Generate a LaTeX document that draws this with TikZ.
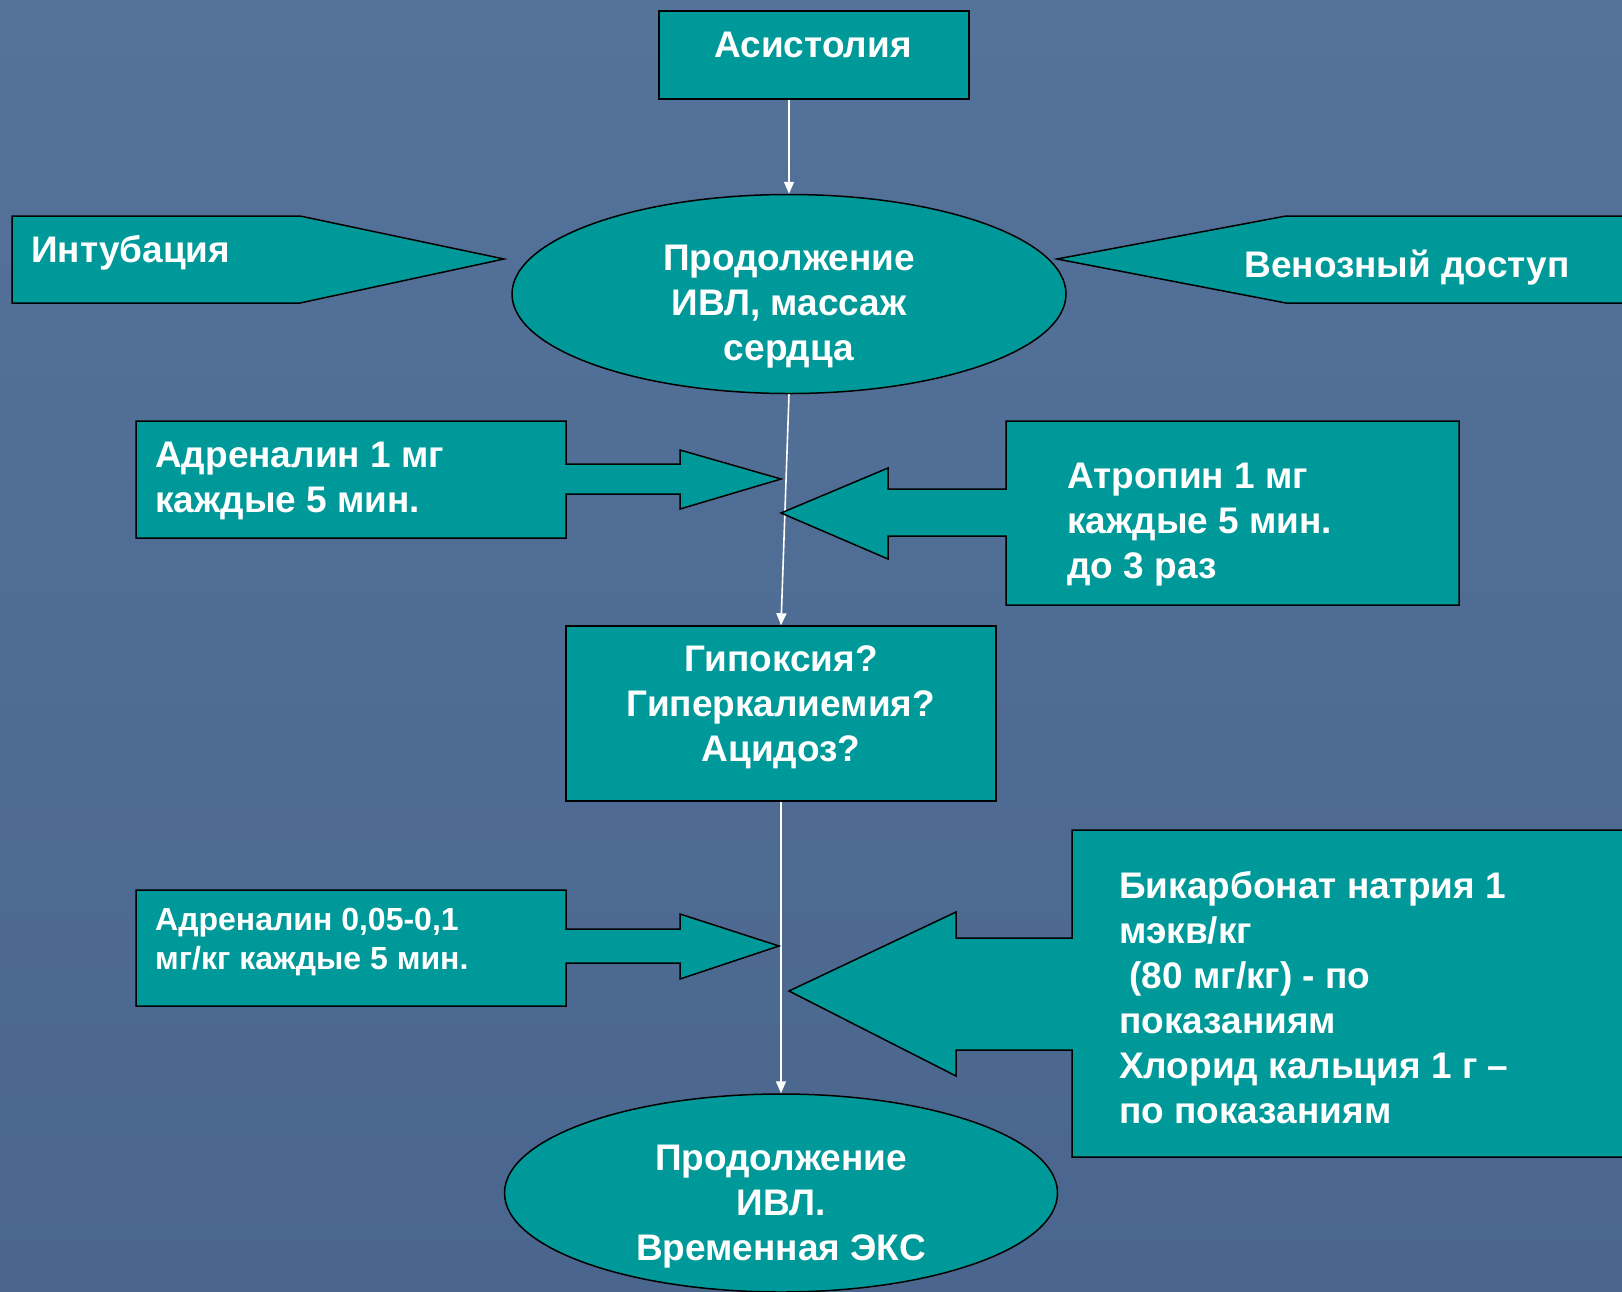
\documentclass[tikz,border=0pt]{standalone}
\usepackage{fontspec}
\setmainfont{Liberation Sans}
\usetikzlibrary{shapes.geometric,arrows.meta}
\definecolor{bgtop}{RGB}{84,114,154}
\definecolor{bgbot}{RGB}{74,102,142}
\definecolor{tealfill}{RGB}{0,153,153}
\begin{document}
\begin{tikzpicture}[x=1pt,y=-1pt,
  shapeline/.style={fill=tealfill,draw=black,line width=1.5pt,line join=miter},
  boxnode/.style={rectangle,fill=tealfill,draw=black,line width=1.5pt,inner sep=0pt},
  ellnode/.style={ellipse,fill=tealfill,draw=black,line width=1.5pt,inner sep=0pt,minimum width=554pt,minimum height=199pt},
  txt/.style={text=white,font=\bfseries\fontsize{37}{45}\selectfont,inner sep=0pt},
  txtsmall/.style={text=white,font=\bfseries\fontsize{32}{39}\selectfont,inner sep=0pt},
  flow/.style={draw=white,line width=1.6pt,-{Triangle[length=12pt,width=10pt]}}
]
\useasboundingbox (0,0) rectangle (1622,1291);
\clip (0,0) rectangle (1622,1291);
\shade[top color=bgtop,bottom color=bgbot] (0,0) rectangle (1622,1291);

% top box
\node[boxnode,minimum width=310pt,minimum height=88pt] (asys) at (814,55) {};
\node[txt] (asyst) at (813,45) {Асистолия};

% ellipses
\node[ellnode] (ell1) at (789,294) {};
\node[txt,align=center] (ell1t) at (789,307) {Продолжение\\ИВЛ, массаж\\сердца};

% pentagon callouts
\draw[shapeline] (12,216) -- (300,216) -- (504,259) -- (300,303) -- (12,303) -- cycle;
\node[txt,anchor=west] (intub) at (31,253) {Интубация};
\draw[shapeline] (1640,216) -- (1286,216) -- (1057,259) -- (1286,303) -- (1640,303) -- cycle;
\node[txt] (ven) at (1407,268) {Венозный доступ};

% hypoxia box
\node[boxnode,minimum width=430pt,minimum height=175pt] (hyp) at (781,713.5) {};
\node[txt,align=center] (hypt) at (781,707) {Гипоксия?\\Гиперкалиемия?\\Ацидоз?};

% bottom ellipse
\node[ellnode,minimum width=553pt,minimum height=198pt] (ell2) at (781,1193) {};
\node[txt,align=center] (ell2t) at (781,1207) {Продолжение\\ИВЛ.\\Временная ЭКС};

% flow lines
\draw[flow] (asys.south -| ell1.north) -- (ell1.north);
\draw[flow] (ell1.south) -- (hyp.north);
\draw[flow] (hyp.south) -- (ell2.north);

% Adrenalin 1 mg box with arrow
\draw[shapeline] (136,421) -- (566,421) -- (566,464) -- (680,464) -- (680,450) -- (781,479)
  -- (680,509) -- (680,494) -- (566,494) -- (566,538) -- (136,538) -- cycle;
\node[txt,align=left,anchor=west] (adr1) at (155,481) {Адреналин 1 мг\\каждые 5 мин.};

% Atropin box with arrow
\draw[shapeline] (1459,421) -- (1006,421) -- (1006,489) -- (888,489) -- (888,468) -- (781,513)
  -- (888,559) -- (888,536) -- (1006,536) -- (1006,605) -- (1459,605) -- cycle;
\node[txt,align=left,anchor=west] (atr) at (1067,525) {Атропин 1 мг\\каждые 5 мин.\\до 3 раз};

% Adrenalin 0.05 box with arrow
\draw[shapeline] (136,890) -- (566,890) -- (566,929) -- (680,929) -- (680,914) -- (779,946)
  -- (680,979) -- (680,963) -- (566,963) -- (566,1006) -- (136,1006) -- cycle;
\node[txtsmall,align=left,anchor=west] (adr2) at (155,942) {Адреналин 0,05-0,1\\мг/кг каждые 5 мин.};

% Bicarbonate box with arrow
\draw[shapeline] (1640,830) -- (1072,830) -- (1072,938) -- (956,938) -- (956,912) -- (789,991)
  -- (956,1076) -- (956,1050) -- (1072,1050) -- (1072,1157) -- (1640,1157) -- cycle;
\node[txt,align=left,anchor=west] (bic) at (1119,998) {Бикарбонат натрия 1\\мэкв/кг\\\hspace*{0.28em}(80 мг/кг) - по\\показаниям\\Хлорид кальция 1 г –\\по показаниям};
\end{tikzpicture}
\end{document}
